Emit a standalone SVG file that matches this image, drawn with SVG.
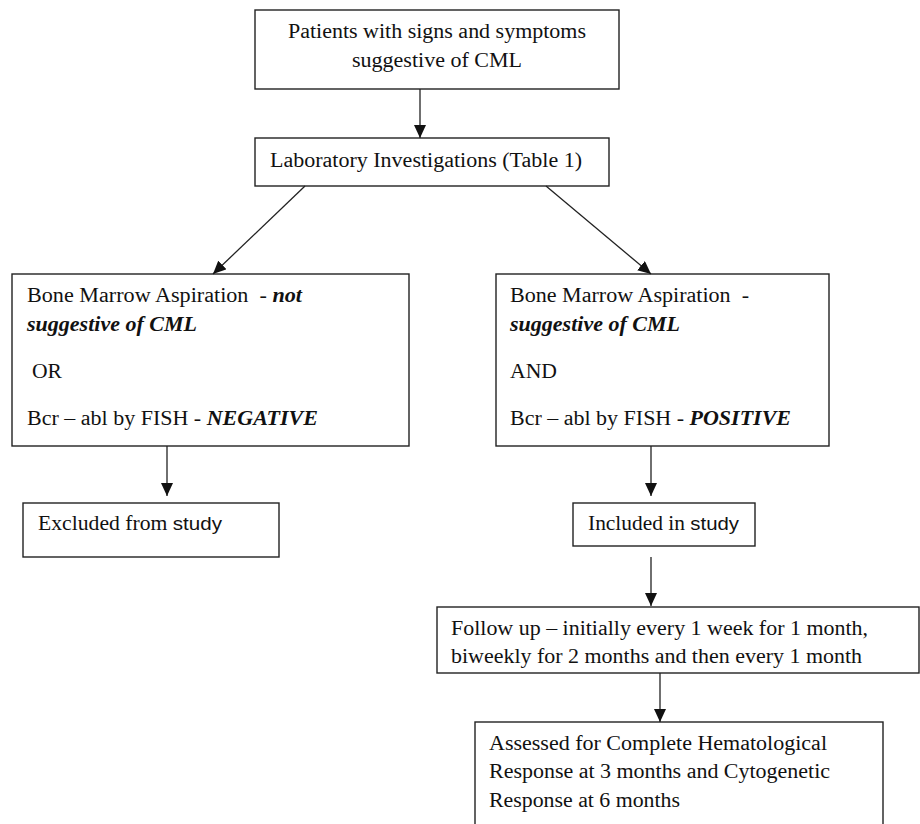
<svg xmlns="http://www.w3.org/2000/svg" width="920" height="824" viewBox="0 0 920 824">
<style>
.box{fill:#fff;stroke:#222;stroke-width:1.4}
.t{font-family:"Liberation Serif","Times New Roman",serif;font-size:20px;fill:#111}
.bi{font-weight:bold;font-style:italic}
.sans{font-family:"Liberation Sans",Arial,sans-serif;font-size:19px}
.conn line{stroke:#222;stroke-width:1.3;marker-end:url(#ah)}
</style>
<defs>
<marker id="ah" markerUnits="userSpaceOnUse" markerWidth="14" markerHeight="12" refX="13" refY="6" orient="auto">
<path d="M0,0 L13,6 L0,12 z" fill="#111"/>
</marker>
</defs>
<rect width="920" height="824" fill="#fff"/>
<g id="patients">
<rect class="box" x="255" y="10" width="364" height="79"/>
<text class="t" x="437" y="38" text-anchor="middle" textLength="298" lengthAdjust="spacingAndGlyphs">Patients with signs and symptoms</text>
<text class="t" x="437" y="67" text-anchor="middle" textLength="170" lengthAdjust="spacingAndGlyphs">suggestive of CML</text>
</g>
<g id="lab">
<rect class="box" x="255" y="138" width="354" height="48"/>
<text class="t" x="270" y="167" textLength="312" lengthAdjust="spacingAndGlyphs">Laboratory Investigations (Table 1)</text>
</g>
<g id="negative">
<rect class="box" x="12" y="274" width="397" height="172"/>
<text class="t" x="27" y="302" xml:space="preserve" textLength="275" lengthAdjust="spacingAndGlyphs">Bone Marrow Aspiration  - <tspan class="bi">not</tspan></text>
<text class="t bi" x="27" y="331" textLength="170" lengthAdjust="spacingAndGlyphs">suggestive of CML</text>
<text class="t" x="32" y="378" textLength="30" lengthAdjust="spacingAndGlyphs">OR</text>
<text class="t" x="27" y="425" textLength="291" lengthAdjust="spacingAndGlyphs">Bcr – abl by FISH - <tspan class="bi">NEGATIVE</tspan></text>
</g>
<g id="positive">
<rect class="box" x="496" y="274" width="333" height="172"/>
<text class="t" x="510" y="302" xml:space="preserve" textLength="239" lengthAdjust="spacingAndGlyphs">Bone Marrow Aspiration  -</text>
<text class="t bi" x="510" y="331" textLength="170" lengthAdjust="spacingAndGlyphs">suggestive of CML</text>
<text class="t" x="510" y="378" textLength="47" lengthAdjust="spacingAndGlyphs">AND</text>
<text class="t" x="510" y="425" textLength="281" lengthAdjust="spacingAndGlyphs">Bcr – abl by FISH - <tspan class="bi">POSITIVE</tspan></text>
</g>
<g id="excluded">
<rect class="box" x="23" y="503" width="256" height="54"/>
<text class="t" x="38" y="530" textLength="184" lengthAdjust="spacingAndGlyphs">Excluded from <tspan class="sans">study</tspan></text>
</g>
<g id="included">
<rect class="box" x="573" y="503" width="182" height="43"/>
<text class="t" x="588" y="530" textLength="151" lengthAdjust="spacingAndGlyphs">Included in <tspan class="sans">study</tspan></text>
</g>
<g id="followup">
<rect class="box" x="437" y="607" width="482" height="66"/>
<text class="t" x="451" y="635" textLength="417" lengthAdjust="spacingAndGlyphs">Follow up – initially every 1 week for 1 month,</text>
<text class="t" x="451" y="663" textLength="411" lengthAdjust="spacingAndGlyphs">biweekly for 2 months and then every 1 month</text>
</g>
<g id="assessed">
<rect class="box" x="475" y="722" width="408" height="120"/>
<text class="t" x="489" y="750" textLength="338" lengthAdjust="spacingAndGlyphs">Assessed for Complete Hematological</text>
<text class="t" x="489" y="778" textLength="341" lengthAdjust="spacingAndGlyphs">Response at 3 months and Cytogenetic</text>
<text class="t" x="489" y="807" textLength="191" lengthAdjust="spacingAndGlyphs">Response at 6 months</text>
</g>
<g id="connectors" class="conn">
<line x1="420" y1="89" x2="420" y2="138"/>
<line x1="305" y1="186" x2="213" y2="274"/>
<line x1="546" y1="186" x2="651" y2="274"/>
<line x1="167" y1="446" x2="167" y2="496"/>
<line x1="651" y1="446" x2="651" y2="496"/>
<line x1="651" y1="557" x2="651" y2="606"/>
<line x1="660" y1="673" x2="660" y2="722"/>
</g>
</svg>
